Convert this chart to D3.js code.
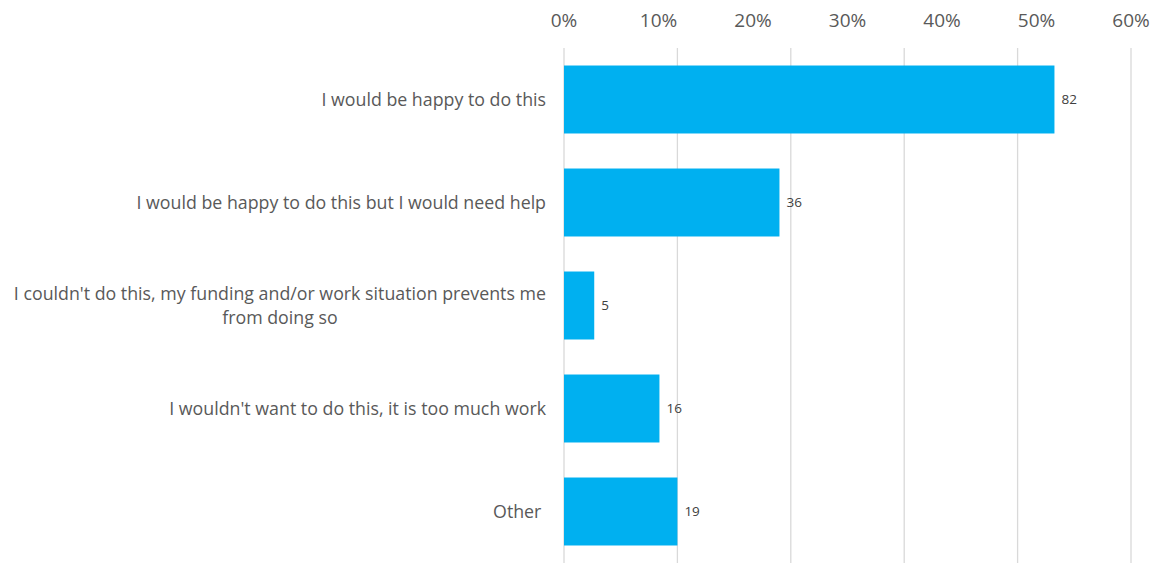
<!DOCTYPE html>
<meta charset="utf-8">
<style>
 body { margin: 0; background: #fff; }
 text { font-family: "Open Sans", sans-serif; }
 .grid line { stroke: #d9d9d9; stroke-width: 1.3px; }
 .tick-label { fill: #595959; font-size: 19px; }
 .cat-label { fill: #595959; font-size: 17.8px; }
 .val-label { fill: #404040; font-size: 13.5px; }
</style>
<body>
<div id="chart"></div>
<script src="https://cdn.jsdelivr.net/npm/d3@7"></script>
<script>
(function(){

  var width = 1158, height = 563;

  // data
  var categories = [
    ["I would be happy to do this"],
    ["I would be happy to do this but I would need help"],
    ["I couldn't do this, my funding and/or work situation prevents me", "from doing so"],
    ["I wouldn't want to do this, it is too much work"],
    ["Other\u00a0"]
  ];
  var counts = [82, 36, 5, 16, 19];
  var shares = [51.9, 22.8, 3.2, 10.1, 12.0];   // % of respondents
  var tickLabels = [0, 10, 20, 30, 40, 50, 60];
  var gridValues = [0, 12, 24, 36, 48, 60];

  var svg = d3.select("#chart").append("svg")
      .attr("width", width)
      .attr("height", height);

  var x = d3.scaleLinear().domain([0, 60]).range([564, 1131]);
  var y = d3.scaleBand()
      .domain(d3.range(categories.length))
      .range([48, 563])
      .paddingInner(0.34)
      .paddingOuter(0.17);

  // gridlines
  svg.append("g").attr("class", "grid")
    .selectAll("line").data(gridValues).enter()
    .append("line")
      .attr("x1", function(d) { return x(d); })
      .attr("x2", function(d) { return x(d); })
      .attr("y1", 48)
      .attr("y2", height);

  // top axis labels
  svg.append("g").selectAll("text").data(tickLabels).enter()
    .append("text")
      .attr("class", "tick-label")
      .attr("x", function(d) { return x(d); })
      .attr("y", 20)
      .attr("dy", "0.35em")
      .attr("text-anchor", "middle")
      .text(function(d) { return d + "%"; });

  // bars
  svg.append("g").selectAll("rect").data(shares).enter()
    .append("rect")
      .attr("x", x(0))
      .attr("y", function(d, i) { return y(i); })
      .attr("width", function(d) { return x(d) - x(0); })
      .attr("height", y.bandwidth())
      .attr("fill", "#00b0f0");

  // value labels
  svg.append("g").selectAll("text").data(shares).enter()
    .append("text")
      .attr("class", "val-label")
      .attr("x", function(d) { return x(d) + 7; })
      .attr("y", function(d, i) { return y(i) + y.bandwidth() / 2; })
      .attr("dy", "0.35em")
      .text(function(d, i) { return counts[i]; });

  // category labels, centred lines in a block right-aligned to the axis
  var right = 546, lineH = 24;
  categories.forEach(function(lines, i) {
    var g = svg.append("g");
    var cy = y(i) + y.bandwidth() / 2;
    var t = g.selectAll("text").data(lines).enter()
      .append("text")
        .attr("class", "cat-label")
        .attr("y", function(d, j) { return cy + (j - (lines.length - 1) / 2) * lineH; })
        .attr("dy", "0.35em")
        .attr("text-anchor", "middle")
        .text(function(d) { return d; });
    var w = 0;
    t.each(function() { w = Math.max(w, this.getComputedTextLength()); });
    t.attr("x", right - w / 2);
  });

})();
</script>
</body>
